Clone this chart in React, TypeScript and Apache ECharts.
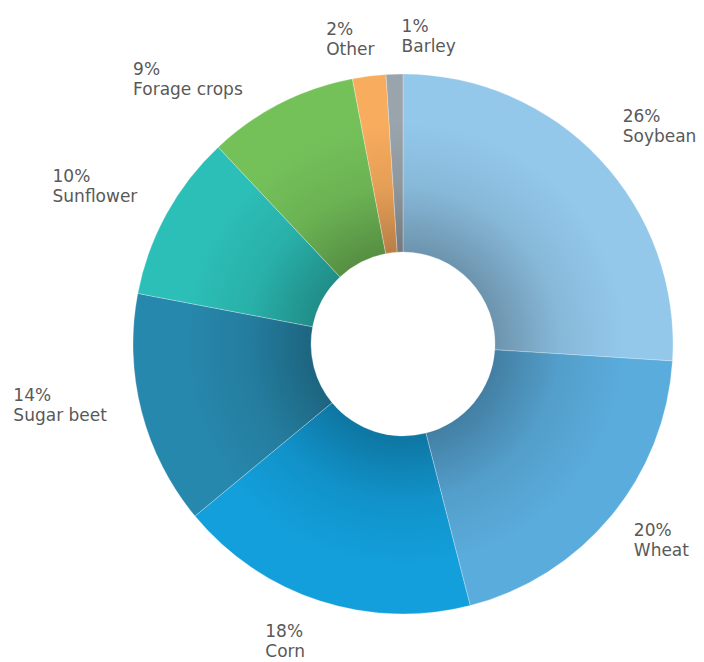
import React, { useEffect, useRef } from "react";
import * as echarts from "echarts";

const categories = ["Soybean", "Wheat", "Corn", "Sugar beet", "Sunflower", "Forage crops", "Other", "Barley"];
const shares = [26, 20, 18, 14, 10, 9, 2, 1];
const baseColors = ["#93C8EB", "#5AACDC", "#139FDB", "#2788AD", "#2CBFB8", "#74C15A", "#F8AC5E", "#9AA4AC"];
// small manual label nudges (label text placement only)
const labelNudgeX = [11, 6, -19, -7, -8, -54, -12, 36];
const labelNudgeY = [1, -8, -7, -19, -4, 20, 12, 12];

const W = 704;
const H = 662;
const CX = 403;
const CY = 344;
const R_IN = 92;
const R_OUT = 270;
const LABEL_GAP = 30;

function darken(hex: string, f: number): string {
  const n = parseInt(hex.slice(1), 16);
  const r = Math.round(((n >> 16) & 255) * f);
  const g = Math.round(((n >> 8) & 255) * f);
  const b = Math.round((n & 255) * f);
  return `rgb(${r},${g},${b})`;
}

export default function App() {
  const ref = useRef<HTMLDivElement>(null);
  useEffect(() => {
    if (!ref.current) return;
    const chart = echarts.init(ref.current, null, { renderer: "svg" });
    const total = shares.reduce((a, b) => a + b, 0);
    const cum: number[] = [];
    let acc = 0;
    shares.forEach((v) => {
      cum.push(acc);
      acc += v;
    });
    const data = categories.map((name, i) => ({
      name,
      value: shares[i],
      itemStyle: {
        color: {
          type: "radial",
          x: CX,
          y: CY,
          r: R_OUT,
          global: true,
          colorStops: [
            { offset: 0, color: darken(baseColors[i], 0.72) },
            { offset: R_IN / R_OUT, color: darken(baseColors[i], 0.74) },
            { offset: 0.58, color: darken(baseColors[i], 0.92) },
            { offset: 0.82, color: baseColors[i] },
            { offset: 1, color: baseColors[i] },
          ],
        },
      },
    }));
    chart.setOption({
      animation: false,
      backgroundColor: "#ffffff",
      series: [
        {
          type: "pie",
          center: [CX, CY],
          radius: [R_IN, R_OUT],
          startAngle: 90,
          clockwise: true,
          avoidLabelOverlap: false,
          itemStyle: { borderColor: "rgba(255,255,255,0.45)", borderWidth: 0.6 },
          label: {
            show: true,
            position: "outside",
            formatter: "{c}%\n{b}",
            color: "#595959",
            fontFamily: "DejaVu Sans",
            fontSize: 17,
            lineHeight: 20,
          },
          labelLine: { show: false },
          labelLayout: (p: any) => {
            const i = p.dataIndex;
            const f = (cum[i] + shares[i] / 2) / total;
            const th = f * Math.PI * 2;
            const dx = Math.sin(th);
            const dy = -Math.cos(th);
            const w = p.labelRect.width;
            const h = p.labelRect.height;
            const ax = CX + dx * (R_OUT + LABEL_GAP);
            const ay = CY + dy * (R_OUT + LABEL_GAP);
            const cx = ax + (dx * w) / 2 + labelNudgeX[i];
            const cy = ay + (dy * h) / 2 + labelNudgeY[i];
            return { x: cx - w / 2, y: cy - h / 2, align: "left", verticalAlign: "top" };
          },
          data,
        },
      ],
    });
    return () => chart.dispose();
  }, []);
  return (
    <div
      ref={ref}
      style={{ position: "fixed", left: 0, top: 0, width: W, height: H }}
    />
  );
}
